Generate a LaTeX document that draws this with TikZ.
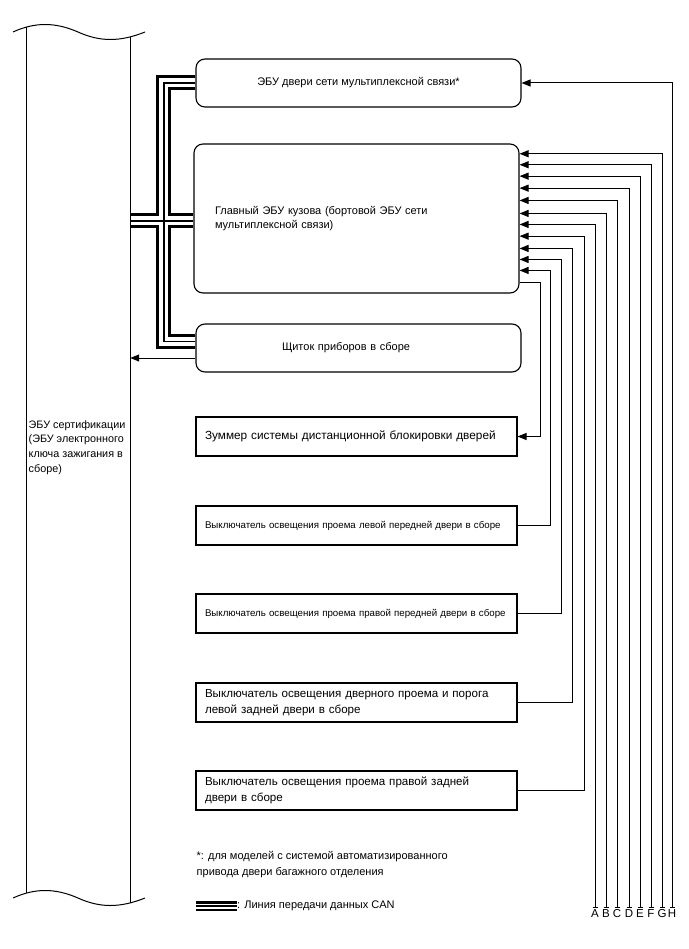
\documentclass[tikz,border=0pt]{standalone}
\usepackage{fontspec}
\setmainfont{Liberation Sans}
\usetikzlibrary{arrows.meta,calc,backgrounds}
\begin{document}
\begin{tikzpicture}[x=1pt,y=-1pt,
  every node/.style={font=\fontsize{11}{14.5}\selectfont},
  rbox/.style={draw,line width=1.1pt,rounded corners=9pt,fill=white,inner sep=0pt},
  sbox/.style={draw,line width=1.1pt,fill=white,inner ysep=0pt,inner xsep=9pt,
    text width=303pt,align=left,minimum height=39pt},
  wire/.style={line width=1pt},
  arr/.style={wire,-{Triangle[length=9pt,width=7pt]}},
  canA/.style={line width=15pt,black},
  canB/.style={line width=9pt,white},
  canC/.style={line width=1.3pt,black},
  lgA/.style={line width=10pt,black},
  lgB/.style={line width=5pt,white},
  lgC/.style={line width=1.2pt,black},
  lbl/.style={font=\fontsize{11.5}{12}\selectfont,inner sep=0pt}
]
\useasboundingbox (0,0) rectangle (688,949);

% left ECU (cut-away)
\draw[wire] (13,32) .. controls (35,22) and (55,22) .. (78,32) .. controls (100,42) and (120,42) .. (145,32);
\draw[wire] (13,898) .. controls (35,888) and (55,888) .. (78,898) .. controls (100,908) and (120,908) .. (145,898);
\draw[wire] (26,27.2) -- (26,893.2);
\draw[wire] (130,36.8) -- (130,902.8);
\node[inner sep=0pt,minimum width=104pt,minimum height=866pt] (ecu) at (78,465) {};
\node[anchor=north west,align=left,inner sep=0pt,font=\fontsize{10.8}{14.7}\selectfont] (ecutxt) at (28.5,420)
  {ЭБУ сертификации\\(ЭБУ электронного\\ключа зажигания в\\сборе)};

% boxes
\node[rbox,minimum width=325pt,minimum height=48pt] (dcu) at (358.5,83) {ЭБУ двери сети мультиплексной связи*};
\node[rbox,minimum height=149pt,text width=283pt,inner xsep=21pt,align=left] (main) at (356.5,218.5)
  {Главный ЭБУ кузова (бортовой ЭБУ сети\\мультиплексной связи)};
\node[rbox,minimum height=48pt,text width=153pt,inner xsep=86pt,align=left] (cluster) at (358.5,348)
  {Щиток приборов в сборе};
\node[sbox,font=\fontsize{11.8}{15}\selectfont] (buzz) at (356.5,436.5) {Зуммер системы дистанционной блокировки дверей};
\node[sbox,font=\fontsize{9.7}{12}\selectfont] (sw5) at (356.5,525.5) {\mbox{Выключатель освещения проема левой передней двери в сборе}};
\node[sbox,font=\fontsize{9.7}{12}\selectfont] (sw6) at (356.5,613.5) {\mbox{Выключатель освещения проема правой передней двери в сборе}};
\node[sbox,font=\fontsize{11.6}{15.5}\selectfont] (sw7) at (356.5,702.5) {Выключатель освещения дверного проема и порога\\левой задней двери в сборе};
\node[sbox,font=\fontsize{11.6}{15.5}\selectfont] (sw8) at (356.5,790.5) {Выключатель освещения проема правой задней\\двери в сборе};

% CAN bus
\coordinate (bt) at ($(dcu.west)+(-31.5,0)$);
\coordinate (b3) at ($(cluster.west)+(0,-6.5)$);
\coordinate (bb) at (b3 -| bt);
\coordinate (bm1) at ($(main.west)+(0,2.5)$);
\coordinate (bm0) at (bm1 -| ecu.east);
\begin{scope}[on background layer]
\foreach \s in {canA,canB,canC}{
  \draw[\s] (dcu.west) -- (bt) -- (bb) -- (b3);
  \draw[\s] (bm0) -- (bm1);
}
\end{scope}

% cluster -> ECU
\coordinate (cl) at ($(cluster.west)+(0,10)$);
\draw[arr] (cl) -- (cl -| ecu.east);

% terminals
\foreach \n/\x in {A/595,B/606,C/617,D/629,E/640,F/651,G/662,H/672}{
  \coordinate (\n) at (\x,907);
  \draw[line width=0.6pt] ($(\n)+(-2.5,0)$) -- ($(\n)+(2.5,0)$);
  \node[lbl] (l\n) at (\x,913.5) {\n};
}
\foreach \n/\d in {1/10.3,2/21.3,3/32.7,4/44.7,5/57,6/70,7/81,8/92.7,9/105,10/116,11/127,12/139}{
  \coordinate (m\n) at ($(main.north east)+(0,\d)$);
}
\draw[arr] (H) |- (dcu.east);
\draw[arr] (G) |- (m1);
\draw[arr] (F) |- (m2);
\draw[arr] (E) |- (m3);
\draw[arr] (D) |- (m4);
\draw[arr] (C) |- (m5);
\draw[arr] (B) |- (m6);
\draw[arr] (A) |- (m7);
\draw[arr] (sw8.east) -| ($(m8)+(65,0)$) -- (m8);
\draw[arr] (sw7.east) -| ($(m9)+(53,0)$) -- (m9);
\draw[arr] (sw6.east) -| ($(m10)+(42,0)$) -- (m10);
\draw[arr] (sw5.east) -| ($(m11)+(31,0)$) -- (m11);
\draw[arr] (m12) -- ($(m12)+(21,0)$) |- (buzz.east);

% footnote and legend
\node[anchor=north west,align=left,inner sep=0pt,font=\fontsize{11}{15.7}\selectfont] (note) at (196.5,851)
  {*: для моделей с системой автоматизированного\\привода двери багажного отделения};
\coordinate (lg0) at (196,906);
\coordinate (lg1) at (237,906);
\foreach \s in {lgA,lgB,lgC}{\draw[\s] (lg0) -- (lg1);}
\node[anchor=west,inner sep=0pt,font=\fontsize{11}{14}\selectfont] (lgtxt) at (lg1) {: Линия передачи данных CAN};
\end{tikzpicture}
\end{document}
